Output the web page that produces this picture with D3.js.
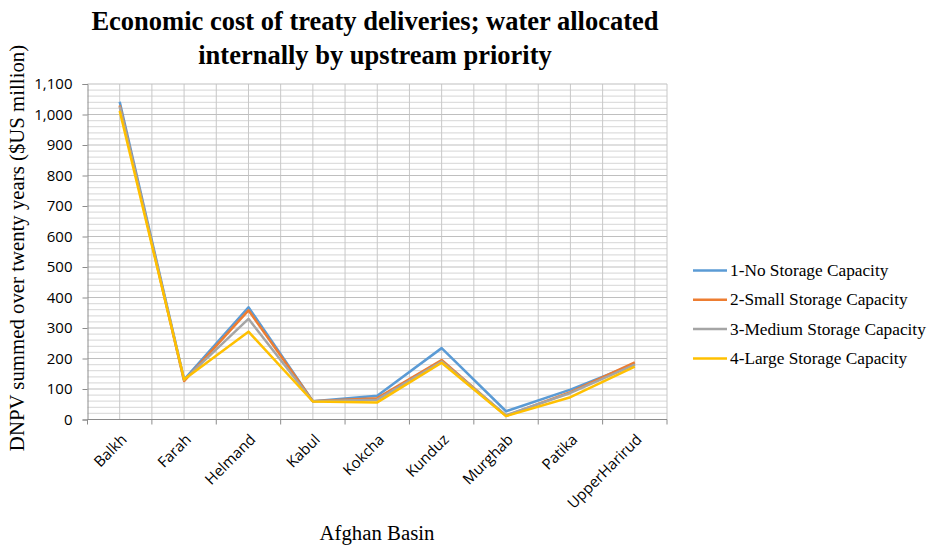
<!DOCTYPE html>
<html>
<head>
<meta charset="utf-8">
<script src="https://d3js.org/d3.v7.min.js"></script>
<style>
  body { margin: 0; background: #fff; }
</style>
</head>
<body>
<svg width="934" height="547"></svg>
<script>
  var basins = ["Balkh", "Farah", "Helmand", "Kabul", "Kokcha", "Kunduz", "Murghab", "Patika", "UpperHarirud"];
  var noStorage = [1042, 131, 368, 60, 78, 234, 27, 98, 182];
  var smallStorage = [1030, 126, 358, 60, 70, 195, 12, 90, 187];
  var mediumStorage = [1026, 130, 330, 60, 65, 190, 14, 87, 180];
  var largeStorage = [1012, 131, 288, 59, 56, 186, 11, 73, 173];
  var seriesNames = ["1-No Storage Capacity", "2-Small Storage Capacity", "3-Medium Storage Capacity", "4-Large Storage Capacity"];
  var seriesColors = ["#5b9bd5", "#ed7d31", "#a5a5a5", "#ffc000"];
  var yTicks = [0, 100, 200, 300, 400, 500, 600, 700, 800, 900, 1000, 1100];

  var allSeries = [noStorage, smallStorage, mediumStorage, largeStorage];

  var svg = d3.select("svg");
  var plotL = 87.5, plotR = 667, plotT = 84, plotB = 419.5;

  var x = d3.scaleBand().domain(basins).range([plotL, plotR]);
  var y = d3.scaleLinear().domain([0, 1100]).range([plotB, plotT]);

  // minor gridlines every 20
  var minor = d3.range(0, 1101, 20).filter(function(v) { return v % 100 != 0; });
  svg.append("g").selectAll("line")
    .data(minor).enter().append("line")
    .attr("x1", plotL).attr("x2", plotR)
    .attr("y1", function(d) { return y(d); })
    .attr("y2", function(d) { return y(d); })
    .style("stroke", "#dedede")
    .style("stroke-width", 1.3);

  // vertical gridlines at every half category
  var vx = [];
  basins.forEach(function(b) { vx.push(x(b) + x.bandwidth() / 2); vx.push(x(b) + x.bandwidth()); });
  svg.append("g").selectAll("line")
    .data(vx).enter().append("line")
    .attr("x1", function(d) { return d; }).attr("x2", function(d) { return d; })
    .attr("y1", plotT).attr("y2", plotB)
    .style("stroke", "#c8c8c8")
    .style("stroke-width", 1);

  // major gridlines
  svg.append("g").selectAll("line")
    .data(yTicks.slice(1)).enter().append("line")
    .attr("x1", plotL).attr("x2", plotR)
    .attr("y1", function(d) { return y(d); })
    .attr("y2", function(d) { return y(d); })
    .style("stroke", "#bfbfbf")
    .style("stroke-width", 1);

  // y axis
  var yAxis = svg.append("g")
    .attr("transform", "translate(" + plotL + ",0)")
    .call(d3.axisLeft(y).tickValues(yTicks).tickSize(5).tickPadding(10).tickFormat(d3.format(",")));
  yAxis.selectAll("path, line").style("stroke", "#8c8c8c");
  yAxis.selectAll("text")
    .style("font-family", "'Open Sans', 'Liberation Sans', sans-serif")
    .style("font-size", "15px")
    .style("fill", "#000");

  // x axis
  var xAxis = svg.append("g")
    .attr("transform", "translate(0," + plotB + ")")
    .call(d3.axisBottom(x).tickSize(0).tickPadding(0));
  xAxis.select("path").style("stroke", "#8c8c8c").attr("d", "M" + plotL + ",0H" + plotR);
  // tick marks on category boundaries
  svg.append("g").selectAll("line")
    .data([plotL].concat(basins.map(function(b) { return x(b) + x.bandwidth(); })))
    .enter().append("line")
    .attr("x1", function(d) { return d; }).attr("x2", function(d) { return d; })
    .attr("y1", plotB).attr("y2", plotB + 5)
    .style("stroke", "#8c8c8c");
  xAxis.selectAll("text")
    .attr("text-anchor", "end")
    .attr("y", 0)
    .attr("dy", 0)
    .attr("transform", "translate(8,21) rotate(-45)")
    .style("font-family", "'Open Sans', 'Liberation Sans', sans-serif")
    .style("font-size", "15px")
    .style("fill", "#000");

  // lines
  var line = d3.line()
    .x(function(d, i) { return x(basins[i]) + x.bandwidth() / 2; })
    .y(function(d) { return y(d); });

  allSeries.forEach(function(s, i) {
    svg.append("path")
      .datum(s)
      .attr("d", line)
      .style("fill", "none")
      .style("stroke", seriesColors[i])
      .style("stroke-width", 2.5)
      .style("stroke-linejoin", "round");
  });

  // title
  svg.append("text")
    .attr("x", 375).attr("y", 30)
    .attr("text-anchor", "middle")
    .style("font-family", "'Liberation Serif', serif")
    .style("font-weight", "bold")
    .style("font-size", "26.5px")
    .text("Economic cost of treaty deliveries; water allocated");
  svg.append("text")
    .attr("x", 375).attr("y", 64)
    .attr("text-anchor", "middle")
    .style("font-family", "'Liberation Serif', serif")
    .style("font-weight", "bold")
    .style("font-size", "26.5px")
    .text("internally by upstream priority");

  // axis titles
  svg.append("text")
    .attr("text-anchor", "middle")
    .attr("transform", "translate(24,248) rotate(-90)")
    .style("font-family", "'Liberation Serif', serif")
    .style("font-size", "20.8px")
    .text("DNPV summed over twenty years ($US million)");
  svg.append("text")
    .attr("x", 377).attr("y", 540)
    .attr("text-anchor", "middle")
    .style("font-family", "'Liberation Serif', serif")
    .style("font-size", "20.8px")
    .text("Afghan Basin");

  // legend
  var legend = svg.append("g").selectAll("g")
    .data(seriesNames).enter().append("g")
    .attr("transform", function(d, i) { return "translate(693," + (270.5 + i * 29.3) + ")"; });
  legend.append("line")
    .attr("x1", 0).attr("x2", 34).attr("y1", 0).attr("y2", 0)
    .style("stroke", function(d, i) { return seriesColors[i]; })
    .style("stroke-width", 2.5);
  legend.append("text")
    .attr("x", 37).attr("y", 5.5)
    .style("font-family", "'Liberation Serif', serif")
    .style("font-size", "17.3px")
    .text(function(d) { return d; });
</script>
</body>
</html>
